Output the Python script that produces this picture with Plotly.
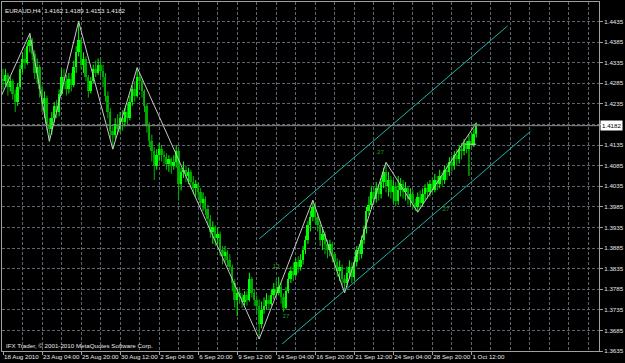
import plotly.graph_objects as go

# ---------------- data (EURAUD H4) ----------------
close = [
    1.4290, 1.4305, 1.4275, 1.4290, 1.4260, 1.4240, 1.4275, 1.4320, 1.4345, 1.4335,
    1.4375, 1.4390, 1.4355, 1.4310, 1.4325, 1.4270, 1.4235, 1.4250, 1.4185, 1.4175,
    1.4200, 1.4230, 1.4215, 1.4260, 1.4300, 1.4290, 1.4270, 1.4295, 1.4280, 1.4325,
    1.4360, 1.4390, 1.4330, 1.4345, 1.4300, 1.4265, 1.4290, 1.4320, 1.4310, 1.4330,
    1.4315, 1.4300, 1.4255, 1.4215, 1.4170, 1.4160, 1.4185, 1.4175, 1.4200, 1.4190,
    1.4215, 1.4200, 1.4240, 1.4270, 1.4255, 1.4300, 1.4290, 1.4265, 1.4229, 1.4180,
    1.4144, 1.4120, 1.4085, 1.4110, 1.4125, 1.4110, 1.4105, 1.4090, 1.4100, 1.4085,
    1.4095, 1.4120, 1.4040, 1.4070, 1.4075, 1.4060, 1.4070, 1.4045, 1.4030, 1.4040,
    1.4020, 1.3995, 1.4005, 1.3980, 1.3955, 1.3925, 1.3935, 1.3910, 1.3920, 1.3880,
    1.3865, 1.3875, 1.3855, 1.3840, 1.3800, 1.3760, 1.3775, 1.3765, 1.3755, 1.3770,
    1.3760, 1.3810, 1.3775, 1.3760, 1.3745, 1.3700, 1.3735, 1.3745, 1.3760, 1.3750,
    1.3770, 1.3785, 1.3775, 1.3790, 1.3765, 1.3740, 1.3780, 1.3810, 1.3830, 1.3820,
    1.3850, 1.3840, 1.3855, 1.3880, 1.3905, 1.3940, 1.3960, 1.3985, 1.3960, 1.3940,
    1.3905, 1.3920, 1.3895, 1.3880, 1.3895, 1.3870, 1.3850, 1.3830, 1.3840, 1.3810,
    1.3800, 1.3825, 1.3840, 1.3815, 1.3850, 1.3880, 1.3870, 1.3905, 1.3930, 1.3975,
    1.3990, 1.4020, 1.4005, 1.4030, 1.4015, 1.4045, 1.4070, 1.4035, 1.4050, 1.4020,
    1.4035, 1.4000, 1.4025, 1.4040, 1.4020, 1.4030, 1.4005, 1.4015, 1.3995, 1.3985,
    1.4010, 1.3995, 1.4015, 1.4030, 1.4020, 1.4040, 1.4025, 1.4050, 1.4040, 1.4060,
    1.4050, 1.4075, 1.4070, 1.4095, 1.4085, 1.4110, 1.4100, 1.4125, 1.4120, 1.4140,
    1.4125, 1.4145, 1.4135, 1.4162, 1.4182,
]
high = [
    1.4320, 1.4320, 1.4310, 1.4300, 1.4295, 1.4270, 1.4285, 1.4330, 1.4360, 1.4370,
    1.4385, 1.4406, 1.4395, 1.4365, 1.4345, 1.4330, 1.4280, 1.4265, 1.4255, 1.4200,
    1.4215, 1.4240, 1.4245, 1.4270, 1.4320, 1.4320, 1.4305, 1.4310, 1.4310, 1.4340,
    1.4375, 1.4435, 1.4395, 1.4360, 1.4350, 1.4305, 1.4300, 1.4330, 1.4340, 1.4345,
    1.4345, 1.4330, 1.4310, 1.4265, 1.4225, 1.4180, 1.4200, 1.4210, 1.4215, 1.4220,
    1.4225, 1.4235, 1.4255, 1.4280, 1.4290, 1.4323, 1.4310, 1.4295, 1.4270, 1.4235,
    1.4190, 1.4160, 1.4130, 1.4125, 1.4140, 1.4135, 1.4120, 1.4115, 1.4110, 1.4105,
    1.4110, 1.4135, 1.4125, 1.4080, 1.4095, 1.4085, 1.4080, 1.4075, 1.4060, 1.4050,
    1.4045, 1.4030, 1.4020, 1.4010, 1.3990, 1.3965, 1.3950, 1.3940, 1.3935, 1.3925,
    1.3890, 1.3890, 1.3880, 1.3870, 1.3845, 1.3810, 1.3785, 1.3790, 1.3775, 1.3780,
    1.3780, 1.3825, 1.3815, 1.3785, 1.3770, 1.3760, 1.3755, 1.3765, 1.3775, 1.3770,
    1.3785, 1.3800, 1.3810, 1.3815, 1.3800, 1.3775, 1.3790, 1.3825, 1.3840, 1.3850,
    1.3860, 1.3865, 1.3870, 1.3890, 1.3915, 1.3950, 1.3975, 1.4001, 1.3990, 1.3970,
    1.3950, 1.3935, 1.3925, 1.3905, 1.3905, 1.3900, 1.3875, 1.3860, 1.3855, 1.3845,
    1.3820, 1.3840, 1.3855, 1.3850, 1.3865, 1.3890, 1.3895, 1.3915, 1.3940, 1.3985,
    1.4010, 1.4035, 1.4035, 1.4045, 1.4040, 1.4055, 1.4080, 1.4093, 1.4070, 1.4060,
    1.4050, 1.4045, 1.4060, 1.4055, 1.4050, 1.4045, 1.4035, 1.4030, 1.4025, 1.4005,
    1.4020, 1.4025, 1.4030, 1.4040, 1.4045, 1.4050, 1.4055, 1.4065, 1.4060, 1.4075,
    1.4070, 1.4085, 1.4090, 1.4105, 1.4110, 1.4120, 1.4125, 1.4135, 1.4140, 1.4150,
    1.4145, 1.4160, 1.4165, 1.4175, 1.4189,
]
low = [
    1.4270, 1.4280, 1.4255, 1.4265, 1.4245, 1.4215, 1.4230, 1.4270, 1.4310, 1.4320,
    1.4330, 1.4360, 1.4340, 1.4295, 1.4285, 1.4250, 1.4215, 1.4200, 1.4170, 1.4144,
    1.4160, 1.4190, 1.4200, 1.4205, 1.4255, 1.4270, 1.4255, 1.4260, 1.4265, 1.4275,
    1.4310, 1.4350, 1.4320, 1.4310, 1.4290, 1.4250, 1.4260, 1.4285, 1.4300, 1.4305,
    1.4300, 1.4275, 1.4240, 1.4200, 1.4150, 1.4125, 1.4150, 1.4160, 1.4165, 1.4170,
    1.4180, 1.4185, 1.4195, 1.4230, 1.4240, 1.4250, 1.4270, 1.4250, 1.4215, 1.4165,
    1.4130, 1.4095, 1.4050, 1.4075, 1.4095, 1.4095, 1.4085, 1.4075, 1.4070, 1.4065,
    1.4075, 1.4080, 1.4000, 1.4025, 1.4055, 1.4045, 1.4040, 1.4030, 1.4015, 1.4010,
    1.4005, 1.3985, 1.3975, 1.3965, 1.3940, 1.3910, 1.3895, 1.3890, 1.3895, 1.3865,
    1.3845, 1.3850, 1.3840, 1.3830, 1.3780, 1.3740, 1.3720, 1.3750, 1.3740, 1.3745,
    1.3745, 1.3755, 1.3765, 1.3745, 1.3725, 1.3664, 1.3690, 1.3725, 1.3735, 1.3735,
    1.3745, 1.3760, 1.3765, 1.3770, 1.3750, 1.3730, 1.3735, 1.3775, 1.3800, 1.3805,
    1.3815, 1.3825, 1.3830, 1.3845, 1.3870, 1.3895, 1.3925, 1.3950, 1.3945, 1.3925,
    1.3890, 1.3880, 1.3870, 1.3860, 1.3865, 1.3850, 1.3830, 1.3815, 1.3805, 1.3795,
    1.3776, 1.3790, 1.3810, 1.3800, 1.3805, 1.3840, 1.3855, 1.3860, 1.3895, 1.3920,
    1.3965, 1.3980, 1.3990, 1.3995, 1.4000, 1.4005, 1.4030, 1.4020, 1.4010, 1.4005,
    1.3995, 1.3985, 1.3990, 1.4010, 1.4005, 1.4000, 1.3990, 1.3985, 1.3980, 1.3975,
    1.3972, 1.3980, 1.3985, 1.4000, 1.4005, 1.4010, 1.4015, 1.4020, 1.4025, 1.4030,
    1.4035, 1.4040, 1.4050, 1.4060, 1.4070, 1.4075, 1.4085, 1.4090, 1.4100, 1.4110,
    1.4115, 1.4060, 1.4125, 1.4130, 1.4153,
]
first_open = 1.4295
open_ = [first_open] + close[:-1]
bar_index = list(range(len(close)))

# ZigZag pivots (bar index, price)
zz_bar = [-0.8, 11, 19, 31, 45, 55, 105, 127, 140, 157, 170, 194]
zz_price = [1.4253, 1.4406, 1.4144, 1.4435, 1.4125, 1.4323, 1.3664, 1.4001,
            1.3776, 1.4093, 1.3972, 1.4189]
zz_flat_bar = [189.5, 194]
zz_flat_price = [1.4137, 1.4137]

# channel lines
ch_upper_bar = [105.0, 206.8]
ch_upper_price = [1.3907, 1.4424]
ch_lower_bar = [114.4, 216.2]
ch_lower_price = [1.3652, 1.4168]

# small wave labels
lbl_text = ["13", "27", "27", "27"]
lbl_bar = [112, 116, 154.7, 181.6]
lbl_price = [1.3841, 1.3720, 1.4117, 1.3979]

last_price = 1.4182

# axes labels
x_tick_bars = [0, 16, 32, 48, 64, 80, 96, 112, 128, 144, 160, 176, 192]
x_tick_text = ["18 Aug 2010", "23 Aug 04:00", "25 Aug 20:00", "30 Aug 12:00",
               "2 Sep 04:00", "6 Sep 20:00", "9 Sep 12:00", "14 Sep 04:00",
               "16 Sep 20:00", "21 Sep 12:00", "24 Sep 04:00", "28 Sep 20:00",
               "1 Oct 12:00"]
x_grid_bars = list(range(0, 248, 8))
y_tick_vals = [1.3635, 1.3685, 1.3735, 1.3785, 1.3835, 1.3885, 1.3935, 1.3985,
               1.4035, 1.4085, 1.4135, 1.4185, 1.4235, 1.4285, 1.4335, 1.4385, 1.4435]
y_tick_text = ["1.3635", "1.3685", "1.3735", "1.3785", "1.3835", "1.3885", "1.3935",
               "1.3985", "1.4035", "1.4085", "1.4135", "", "1.4235", "1.4285",
               "1.4335", "1.4385", "1.4435"]

# ---------------- figure ----------------
FONT = "Liberation Sans"
FS = 6.2
TXT = "#e8e8e8"
GRID = "#5c6670"
BULL_BODY, BULL_WICK = "#00ff00", "#00ff00"
BEAR_BODY, BEAR_WICK = "#009c00", "#00b800"

fig = go.Figure()

# candles: wicks + bodies drawn through the axes
for is_bull, wick_col in ((False, BEAR_WICK), (True, BULL_WICK)):
    wx, wy = [], []
    for i in bar_index:
        if (close[i] >= open_[i]) == is_bull:
            wx += [i, i, None]
            wy += [low[i], high[i], None]
    fig.add_trace(go.Scatter(x=wx, y=wy, mode="lines",
                             line=dict(color=wick_col, width=1),
                             hoverinfo="skip", showlegend=False))

body_base = [min(o, c) for o, c in zip(open_, close)]
body_len = [max(abs(c - o), 0.00006) for o, c in zip(open_, close)]
body_col = [BULL_BODY if c >= o else BEAR_BODY for o, c in zip(open_, close)]
fig.add_trace(go.Bar(x=bar_index, y=body_len, base=body_base, width=0.8,
                     marker=dict(color=body_col, line=dict(width=0)),
                     hoverinfo="skip", showlegend=False))

fig.add_trace(go.Scatter(x=zz_bar, y=zz_price, mode="lines",
                         line=dict(color="#c8c8c8", width=1), hoverinfo="skip",
                         showlegend=False))
fig.add_trace(go.Scatter(x=zz_flat_bar, y=zz_flat_price, mode="lines",
                         line=dict(color="#c8c8c8", width=1), hoverinfo="skip",
                         showlegend=False))
for bx, py in ((ch_upper_bar, ch_upper_price), (ch_lower_bar, ch_lower_price)):
    fig.add_trace(go.Scatter(x=bx, y=py, mode="lines",
                             line=dict(color="#20b2aa", width=1), hoverinfo="skip",
                             showlegend=False))

fig.add_trace(go.Scatter(x=lbl_bar, y=lbl_price, mode="text", text=lbl_text,
                         textfont=dict(family=FONT, size=FS, color="#18a018"),
                         hoverinfo="skip", showlegend=False))

fig.add_hline(y=last_price, line=dict(color="#8c8c8c", width=1))

fig.add_annotation(xref="paper", x=1, xanchor="left", xshift=1, yref="y",
                   y=last_price, text="1.4182", showarrow=False,
                   bgcolor="#ffffff", borderpad=1,
                   font=dict(family=FONT, size=FS, color="#000000"))
fig.add_annotation(xref="paper", x=0, xanchor="left", xshift=1, yref="paper",
                   y=1, yanchor="top", yshift=-3,
                   text="EURAUD,H4  1.4162 1.4189 1.4153 1.4182", showarrow=False,
                   font=dict(family=FONT, size=FS, color=TXT))
fig.add_annotation(xref="paper", x=0, xanchor="left", xshift=2, yref="paper",
                   y=0, yanchor="bottom", yshift=0,
                   text="IFX Trader, \u00a9 2001-2010 MetaQuotes Software Corp.",
                   showarrow=False, font=dict(family=FONT, size=FS, color=TXT))

fig.update_layout(
    width=625, height=363,
    margin=dict(l=1, r=23, t=1, b=12),
    paper_bgcolor="#000000", plot_bgcolor="#000000",
    showlegend=False, bargap=0,
    xaxis=dict(
        range=[-0.41, 244.3],
        tickmode="array", tickvals=x_tick_bars, ticktext=x_tick_text,
        tickangle=0, ticklabelposition="outside right", ticklabelstandoff=0,
        ticks="outside", ticklen=3, tickcolor="#a0a0a0",
        tickfont=dict(family=FONT, size=FS, color=TXT),
        showgrid=True, gridcolor=GRID, griddash="3px,2px", gridwidth=1,
        minor=dict(tickvals=x_grid_bars, showgrid=True, gridcolor=GRID,
                   griddash="3px,2px", gridwidth=1),
        showline=True, linecolor="#a0a0a0", linewidth=1, mirror=True,
        zeroline=False, fixedrange=True,
    ),
    yaxis=dict(
        range=[1.3635, 1.44822], side="right",
        tickmode="array", tickvals=y_tick_vals, ticktext=y_tick_text,
        ticks="outside", ticklen=3, tickcolor="#a0a0a0",
        tickfont=dict(family=FONT, size=FS, color=TXT),
        showgrid=True, gridcolor=GRID, griddash="3px,2px", gridwidth=1,
        showline=True, linecolor="#a0a0a0", linewidth=1, mirror=True,
        zeroline=False, fixedrange=True,
    ),
)

fig.write_html("out.html")
